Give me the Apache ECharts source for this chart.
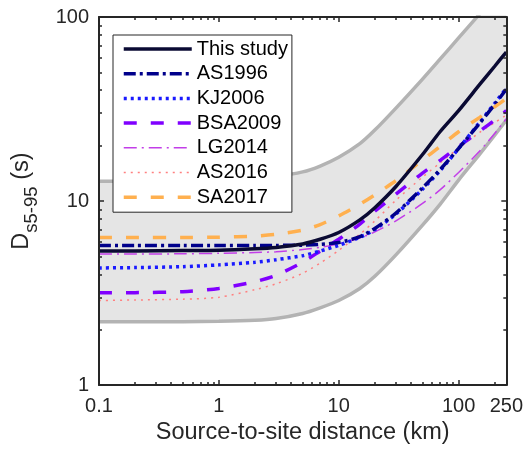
<!DOCTYPE html>
<html>
<head>
<meta charset="utf-8">
<script src="https://cdn.jsdelivr.net/npm/echarts@6/dist/echarts.min.js"></script>
<style>
  html, body { margin: 0; padding: 0; background: #fff; }
  #chart { width: 526px; height: 450px; }
</style>
</head>
<body>
<div id="chart"></div>
<script>
const distances = [0.1, 0.2, 0.5, 1, 2, 3, 5, 7, 10, 15, 20, 30, 50, 70, 100, 150, 200, 250];

// Ds5-95 (s)
const bandUpper = [12.8, 12.8, 12.85, 13.0, 13.3, 13.6, 14.4, 15.5, 17.3, 20.5, 24.3, 32, 46, 59, 77, 104, 130, 155];
const bandLower = [2.21, 2.21, 2.21, 2.22, 2.25, 2.3, 2.45, 2.63, 2.88, 3.35, 3.9, 5.1, 7.4, 9.6, 13.0, 18, 22.8, 27.5];
const thisStudy = [5.35, 5.36, 5.38, 5.4, 5.5, 5.6, 5.85, 6.2, 6.75, 7.9, 9.2, 12.0, 17.9, 23.8, 31, 43, 54, 64.5];
const as1996 = [5.73, 5.73, 5.73, 5.73, 5.73, 5.74, 5.76, 5.82, 5.95, 6.4, 7.1, 8.6, 11.8, 14.8, 19.3, 26.5, 33.5, 40.5];
const kj2006 = [4.33, 4.35, 4.4, 4.5, 4.65, 4.8, 5.05, 5.35, 5.75, 6.35, 7.0, 8.5, 11.6, 14.6, 19.3, 26.8, 34, 41];
const bsa2009 = [3.18, 3.18, 3.22, 3.35, 3.65, 3.95, 4.65, 5.35, 6.2, 7.5, 8.8, 10.9, 14.2, 16.6, 19.8, 24, 27.5, 31];
const lg2014 = [5.15, 5.15, 5.17, 5.2, 5.25, 5.3, 5.45, 5.6, 5.85, 6.3, 6.8, 7.8, 9.7, 11.5, 14.3, 18.7, 23.3, 28];
const as2016 = [2.88, 2.9, 2.93, 3.0, 3.3, 3.55, 4.05, 4.6, 5.4, 6.6, 7.8, 10.1, 13.5, 16.1, 19.4, 23.6, 26.7, 29.3];
const sa2017 = [6.33, 6.33, 6.34, 6.36, 6.45, 6.6, 6.95, 7.45, 8.3, 9.6, 10.8, 12.9, 16.7, 19.8, 23.8, 28.5, 32.5, 36];

// ticks
const xTickLabels = [0.1, 1, 10, 100, 250];
const xMajorTicks = [0.1, 1, 10, 100];
const xMinorTicks = [0.2, 0.3, 0.4, 0.5, 0.6, 0.7, 0.8, 0.9, 2, 3, 4, 5, 6, 7, 8, 9,
  20, 30, 40, 50, 60, 70, 80, 90, 200];
const yTickLabels = [1, 10, 100];
const yMajorTicks = [1, 10, 100];
const yMinorTicks = [2, 3, 4, 5, 6, 7, 8, 9, 20, 30, 40, 50, 60, 70, 80, 90];

const FONT = 'Liberation Sans, Arial, sans-serif';
const AXIS_COLOR = '#262626';

const chart = echarts.init(document.getElementById('chart'));

function axis(kind, position, ticks, tickLen, showLine, extra) {
  const a = {
    type: 'log',
    logBase: 10,
    position: position,
    z: 10,
    axisLine: { show: showLine, onZero: false, lineStyle: { color: AXIS_COLOR, width: 2 } },
    axisTick: { show: true, inside: true, length: tickLen, customValues: ticks,
      lineStyle: { color: AXIS_COLOR, width: 1.5 } },
    axisLabel: { show: false },
    splitLine: { show: false },
    minorTick: { show: false }
  };
  if (kind === 'x') { a.min = 0.1; a.max = 250; } else { a.min = 1; a.max = 100; }
  return Object.assign(a, extra || {});
}

const fmt = v => String(+Number(v).toPrecision(3));

function curve(name, vals, color, width, dash, z) {
  return {
    name: name,
    type: 'line',
    data: distances.map((d, i) => [d, vals[i]]),
    smooth: 0.25,
    symbol: 'none',
    lineStyle: { color: color, width: width, type: dash },
    itemStyle: { color: color },
    z: z,
    silent: true
  };
}

const upperSeries = curve('upper', bandUpper, '#b3b3b3', 3.5, 'solid', 1);
upperSeries.areaStyle = { color: '#e5e5e5', opacity: 1 };
const lowerSeries = curve('lower', bandLower, '#b3b3b3', 3.5, 'solid', 1);
lowerSeries.areaStyle = { color: '#ffffff', opacity: 1 };

const legendItem = (name, width) => ({ name: name, lineStyle: { width: width } });

chart.setOption({
  animation: false,
  grid: { left: 99, right: 16, top: 17, bottom: 62 },
  legend: {
    data: [
      legendItem('This study', 3.5),
      legendItem('AS1996', 3.5),
      legendItem('KJ2006', 3.5),
      legendItem('BSA2009', 3.5),
      legendItem('LG2014', 1.5),
      legendItem('AS2016', 1.5),
      legendItem('SA2017', 3.5)
    ],
    orient: 'vertical',
    left: 113,
    top: 35,
    padding: [4, 4, 5, 9],
    itemWidth: 68,
    itemHeight: 14,
    itemGap: 4.7,
    backgroundColor: '#fff',
    borderColor: AXIS_COLOR,
    borderWidth: 1,
    borderRadius: 0,
    selectedMode: false,
    itemStyle: { opacity: 0 },
    textStyle: { fontSize: 20, lineHeight: 20, color: '#000', fontFamily: FONT }
  },
  xAxis: [
    axis('x', 'bottom', xMajorTicks, 5, true, {
      axisLabel: { show: true, customValues: xTickLabels, formatter: fmt, fontSize: 20,
        color: AXIS_COLOR, fontFamily: FONT, margin: 11 },
      name: 'Source-to-site distance (km)',
      nameLocation: 'middle',
      nameGap: 32,
      nameTextStyle: { fontSize: 23.5, color: AXIS_COLOR, fontFamily: FONT }
    }),
    axis('x', 'bottom', xMinorTicks, 3, false),
    axis('x', 'top', xMajorTicks, 5, true),
    axis('x', 'top', xMinorTicks, 3, false)
  ],
  yAxis: [
    axis('y', 'left', yMajorTicks, 5, true, {
      axisLabel: { show: true, customValues: yTickLabels, formatter: fmt, fontSize: 20,
        color: AXIS_COLOR, fontFamily: FONT, margin: 10 },
      name: '{d|D}{s|s5-95}{d| (s)}',
      nameLocation: 'middle',
      nameGap: 58,
      nameTextStyle: {
        color: AXIS_COLOR,
        fontFamily: FONT,
        rich: {
          d: { fontSize: 23.5, lineHeight: 25, fontFamily: FONT, color: AXIS_COLOR,
            verticalAlign: 'bottom', padding: [0, 0, 7, 0] },
          s: { fontSize: 18.5, lineHeight: 19, fontFamily: FONT, color: AXIS_COLOR,
            verticalAlign: 'bottom' }
        }
      }
    }),
    axis('y', 'left', yMinorTicks, 3, false),
    axis('y', 'right', yMajorTicks, 5, true),
    axis('y', 'right', yMinorTicks, 3, false)
  ],
  series: [
    upperSeries,
    lowerSeries,
    curve('AS2016', as2016, '#ff8080', 1.5, [2, 5], 3),
    curve('LG2014', lg2014, '#c23ee8', 1.5, [13, 5, 2, 5], 3),
    curve('BSA2009', bsa2009, '#8000ff', 3.5, [13, 14], 3),
    curve('KJ2006', kj2006, '#1a1aff', 3.5, [3, 4], 3),
    curve('AS1996', as1996, '#00008b', 3.5, [12, 4, 3, 4], 3),
    curve('SA2017', sa2017, '#ffb04f', 3.5, [13, 14], 3),
    curve('This study', thisStudy, '#0a0a33', 3.5, 'solid', 4)
  ]
});
</script>
</body>
</html>
